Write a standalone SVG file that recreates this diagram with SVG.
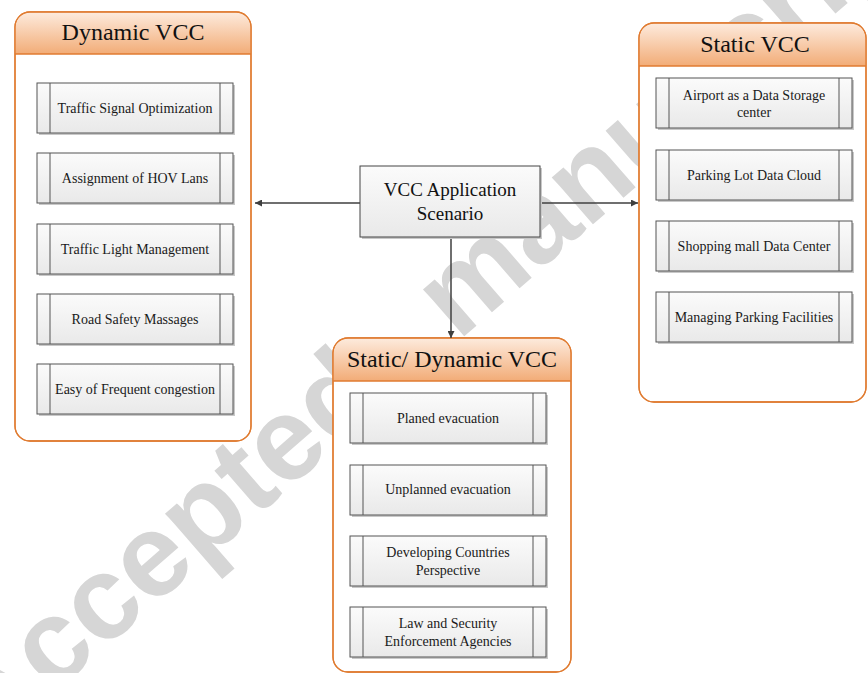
<svg xmlns="http://www.w3.org/2000/svg" width="868" height="673" viewBox="0 0 868 673">
  <defs>
    <linearGradient id="hdr" x1="0" y1="0" x2="0" y2="1">
      <stop offset="0" stop-color="#fdeadc"/>
      <stop offset="1" stop-color="#f2ac77"/>
    </linearGradient>
    <linearGradient id="item" x1="0" y1="0" x2="0" y2="1">
      <stop offset="0" stop-color="#fbfbfb"/>
      <stop offset="1" stop-color="#e9e9e9"/>
    </linearGradient>
    <marker id="arrow" viewBox="0 0 10 10" refX="10" refY="5" markerWidth="7" markerHeight="7" orient="auto" markerUnits="userSpaceOnUse">
      <path d="M0,0 L10,5 L0,10 z" fill="#3f3f3f"/>
    </marker>
  </defs>
  <style>
    .wm { font-family: "Liberation Sans", Arial, sans-serif; font-weight: bold; font-size: 118px; fill: #d6d6d6; }
    .box { fill: #ffffff; stroke: #e07b30; stroke-width: 1.3; }
    .hdr { fill: url(#hdr); }
    .sep { stroke: #e07b30; stroke-width: 1.3; }
    .title { font-family: "Liberation Serif", "Times New Roman", serif; font-size: 24px; fill: #111; text-anchor: middle; }
    .item { fill: url(#item); stroke: #555; stroke-width: 1; }
    .shadow { fill: #c8c8c8; }
    .bar { stroke: #555; stroke-width: 1; }
    .label { font-family: "Liberation Serif", "Times New Roman", serif; font-size: 14px; fill: #1a1a1a; text-anchor: middle; }
    .hub { fill: url(#item); stroke: #444; stroke-width: 1; }
    .hublabel { font-family: "Liberation Serif", "Times New Roman", serif; font-size: 19px; fill: #111; text-anchor: middle; }
    .conn { stroke: #3f3f3f; stroke-width: 1.5; fill: none; marker-end: url(#arrow); }
  </style>

  <!-- background watermark -->
  <text class="wm" transform="translate(-13,751) rotate(-41)">Accepted<tspan dx="60"> manuscript</tspan></text>

  <!-- Dynamic VCC group -->
  <g id="dynamic-vcc">
    <rect class="box" x="15" y="12" width="236" height="429" rx="15"/>
    <path class="hdr" d="M15.6,54 V27 A15,15 0 0 1 30,12.6 H236 A15,15 0 0 1 250.4,27 V54 Z"/>
    <rect x="15" y="12" width="236" height="429" rx="15" fill="none" stroke="#e07b30" stroke-width="1.3"/>
    <line class="sep" x1="15" y1="54" x2="251" y2="54"/>
    <text class="title" x="133" y="40">Dynamic VCC</text>
  </g>
  <g id="d1">
    <rect class="shadow" x="39" y="85" width="196" height="50"/>
    <rect class="item" x="37" y="83" width="196" height="50"/>
    <line class="bar" x1="50" y1="83" x2="50" y2="133"/><line class="bar" x1="220" y1="83" x2="220" y2="133"/>
    <text class="label" x="135" y="113">Traffic Signal Optimization</text>
  </g>
  <g id="d2">
    <rect class="shadow" x="39" y="155" width="196" height="50"/>
    <rect class="item" x="37" y="153" width="196" height="50"/>
    <line class="bar" x1="50" y1="153" x2="50" y2="203"/><line class="bar" x1="220" y1="153" x2="220" y2="203"/>
    <text class="label" x="135" y="183">Assignment of HOV Lans</text>
  </g>
  <g id="d3">
    <rect class="shadow" x="39" y="226" width="196" height="50"/>
    <rect class="item" x="37" y="224" width="196" height="50"/>
    <line class="bar" x1="50" y1="224" x2="50" y2="274"/><line class="bar" x1="220" y1="224" x2="220" y2="274"/>
    <text class="label" x="135" y="254">Traffic Light Management</text>
  </g>
  <g id="d4">
    <rect class="shadow" x="39" y="296" width="196" height="50"/>
    <rect class="item" x="37" y="294" width="196" height="50"/>
    <line class="bar" x1="50" y1="294" x2="50" y2="344"/><line class="bar" x1="220" y1="294" x2="220" y2="344"/>
    <text class="label" x="135" y="324">Road Safety Massages</text>
  </g>
  <g id="d5">
    <rect class="shadow" x="39" y="366" width="196" height="50"/>
    <rect class="item" x="37" y="364" width="196" height="50"/>
    <line class="bar" x1="50" y1="364" x2="50" y2="414"/><line class="bar" x1="220" y1="364" x2="220" y2="414"/>
    <text class="label" x="135" y="394">Easy of Frequent congestion</text>
  </g>

  <!-- Static VCC group -->
  <g id="static-vcc">
    <rect class="box" x="639" y="23" width="227" height="379" rx="15"/>
    <path class="hdr" d="M639.6,66 V38 A15,15 0 0 1 654,23.6 H851 A15,15 0 0 1 865.4,38 V66 Z"/>
    <rect x="639" y="23" width="227" height="379" rx="15" fill="none" stroke="#e07b30" stroke-width="1.3"/>
    <line class="sep" x1="639" y1="66" x2="866" y2="66"/>
    <text class="title" x="755" y="52">Static VCC</text>
  </g>
  <g id="s1">
    <rect class="shadow" x="658" y="80" width="196" height="50"/>
    <rect class="item" x="656" y="78" width="196" height="50"/>
    <line class="bar" x1="669" y1="78" x2="669" y2="128"/><line class="bar" x1="839" y1="78" x2="839" y2="128"/>
    <text class="label" x="754" y="100">Airport as a Data Storage</text>
    <text class="label" x="754" y="117">center</text>
  </g>
  <g id="s2">
    <rect class="shadow" x="658" y="152" width="196" height="50"/>
    <rect class="item" x="656" y="150" width="196" height="50"/>
    <line class="bar" x1="669" y1="150" x2="669" y2="200"/><line class="bar" x1="839" y1="150" x2="839" y2="200"/>
    <text class="label" x="754" y="180">Parking Lot Data Cloud</text>
  </g>
  <g id="s3">
    <rect class="shadow" x="658" y="223" width="196" height="50"/>
    <rect class="item" x="656" y="221" width="196" height="50"/>
    <line class="bar" x1="669" y1="221" x2="669" y2="271"/><line class="bar" x1="839" y1="221" x2="839" y2="271"/>
    <text class="label" x="754" y="251">Shopping mall Data Center</text>
  </g>
  <g id="s4">
    <rect class="shadow" x="658" y="294" width="196" height="50"/>
    <rect class="item" x="656" y="292" width="196" height="50"/>
    <line class="bar" x1="669" y1="292" x2="669" y2="342"/><line class="bar" x1="839" y1="292" x2="839" y2="342"/>
    <text class="label" x="754" y="322">Managing Parking Facilities</text>
  </g>

  <!-- Static/ Dynamic VCC group -->
  <g id="mixed-vcc">
    <rect class="box" x="333" y="338" width="238" height="334" rx="15"/>
    <path class="hdr" d="M333.6,381 V353 A15,15 0 0 1 348,338.6 H556 A15,15 0 0 1 570.4,353 V381 Z"/>
    <rect x="333" y="338" width="238" height="334" rx="15" fill="none" stroke="#e07b30" stroke-width="1.3"/>
    <line class="sep" x1="333" y1="381" x2="571" y2="381"/>
    <text class="title" x="452" y="367">Static/ Dynamic VCC</text>
  </g>
  <g id="m1">
    <rect class="shadow" x="352" y="395" width="196" height="50"/>
    <rect class="item" x="350" y="393" width="196" height="50"/>
    <line class="bar" x1="363" y1="393" x2="363" y2="443"/><line class="bar" x1="533" y1="393" x2="533" y2="443"/>
    <text class="label" x="448" y="423">Planed evacuation</text>
  </g>
  <g id="m2">
    <rect class="shadow" x="352" y="467" width="196" height="50"/>
    <rect class="item" x="350" y="465" width="196" height="50"/>
    <line class="bar" x1="363" y1="465" x2="363" y2="515"/><line class="bar" x1="533" y1="465" x2="533" y2="515"/>
    <text class="label" x="448" y="494">Unplanned evacuation</text>
  </g>
  <g id="m3">
    <rect class="shadow" x="352" y="538" width="196" height="50"/>
    <rect class="item" x="350" y="536" width="196" height="50"/>
    <line class="bar" x1="363" y1="536" x2="363" y2="586"/><line class="bar" x1="533" y1="536" x2="533" y2="586"/>
    <text class="label" x="448" y="557">Developing Countries</text>
    <text class="label" x="448" y="575">Perspective</text>
  </g>
  <g id="m4">
    <rect class="shadow" x="352" y="609" width="196" height="50"/>
    <rect class="item" x="350" y="607" width="196" height="50"/>
    <line class="bar" x1="363" y1="607" x2="363" y2="657"/><line class="bar" x1="533" y1="607" x2="533" y2="657"/>
    <text class="label" x="448" y="628">Law and Security</text>
    <text class="label" x="448" y="646">Enforcement Agencies</text>
  </g>

  <!-- connectors from the hub -->
  <g id="connectors">
    <line class="conn" x1="360" y1="203" x2="255" y2="203"/>
    <line class="conn" x1="540" y1="203" x2="638" y2="203"/>
    <line class="conn" x1="451" y1="238" x2="451" y2="338"/>
  </g>

  <!-- hub node -->
  <g id="hub">
    <rect class="shadow" x="362" y="168" width="180" height="71"/>
    <rect class="hub" x="360" y="166" width="180" height="71"/>
    <text class="hublabel" x="450" y="196">VCC Application</text>
    <text class="hublabel" x="450" y="220">Scenario</text>
  </g>
</svg>
